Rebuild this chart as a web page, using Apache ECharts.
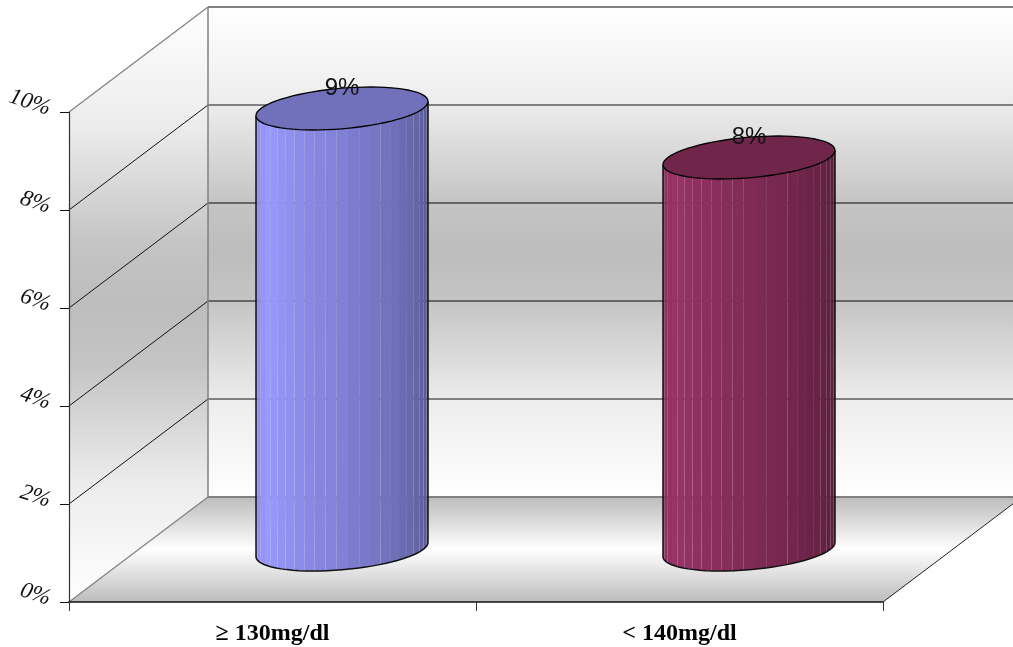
<!DOCTYPE html>
<html>
<head>
<meta charset="utf-8">
<style>html,body{margin:0;padding:0;background:#fff}#chart{width:1013px;height:647px}</style>
<script src="https://cdn.jsdelivr.net/npm/echarts@6/dist/echarts.min.js"></script>
</head>
<body>
<div id="chart"></div>
<script>
// Values of the two columns, in percent
const categories = ['\u2265 130mg/dl', '< 140mg/dl'];
const percentValues = [9, 8];
const valueTicks = [0, 2, 4, 6, 8, 10];
const columnColors = [[153, 153, 255], [153, 51, 102]];

// Oblique projection of the chart box
const DEPTH_X = 139;
const DEPTH_Y = 105;
const RADIUS_WIDE = 86;   // half of the drawn column width
const RADIUS_DX = 28.5;   // sideways shift of the ellipse's depth axis
const RADIUS_DY = 21.5;   // vertical half height of the ellipse

const wallStops = [
  { offset: 0, color: '#ffffff' },
  { offset: 0.2, color: '#ececec' },
  { offset: 0.4, color: '#c4c4c4' },
  { offset: 0.5, color: '#bdbdbd' },
  { offset: 0.6, color: '#c4c4c4' },
  { offset: 0.8, color: '#ececec' },
  { offset: 1, color: '#ffffff' }
];
const floorStops = [
  { offset: 0, color: '#bcbcbc' },
  { offset: 0.5, color: '#ffffff' },
  { offset: 1, color: '#bcbcbc' }
];
const vertical = (colorStops) => ({ type: 'linear', x: 0, y: 0, x2: 0, y2: 1, colorStops });

// Back wall, side wall, floor and the grid lines bent across both walls
function renderBox(params, api) {
  const cs = params.coordSys;
  const left = cs.x, right = cs.x + cs.width;
  const y0 = api.coord([0, 0])[1], yTop = api.coord([0, 10])[1];
  const children = [];
  const poly = (points, fill) => children.push({ type: 'polygon', shape: { points }, style: { fill: vertical(fill), stroke: null } });
  const seg = (x1, y1, x2, y2, stroke, lineWidth) => children.push({
    type: 'line', shape: { x1, y1, x2, y2 }, style: { stroke, lineWidth, fill: null }
  });
  const backX = left + DEPTH_X;

  poly([[backX, yTop - DEPTH_Y], [right + DEPTH_X, yTop - DEPTH_Y], [right + DEPTH_X, y0 - DEPTH_Y], [backX, y0 - DEPTH_Y]], wallStops);
  poly([[left, yTop], [backX, yTop - DEPTH_Y], [backX, y0 - DEPTH_Y], [left, y0]], wallStops);
  poly([[left, y0], [backX, y0 - DEPTH_Y], [right + DEPTH_X, y0 - DEPTH_Y], [right, y0]], floorStops);

  valueTicks.forEach((v) => {
    const y = api.coord([0, v])[1];
    const outer = v === 0 || v === 10;
    const backColor = (v === 4 || v === 6) ? '#666666' : '#808080';
    seg(backX, y - DEPTH_Y, right + DEPTH_X, y - DEPTH_Y, backColor, 2);
    seg(left, y, backX, y - DEPTH_Y, outer ? '#808080' : '#111111', outer ? 1.2 : 1);
  });
  seg(backX, yTop - DEPTH_Y, backX, y0 - DEPTH_Y, '#808080', 1.5);
  seg(right, y0, right + DEPTH_X, y0 - DEPTH_Y, '#222222', 1);
  return { type: 'group', children };
}

// Position on the column's rim; angle runs from the right extreme through the front
function rim(cx, cy, deg) {
  const a = deg * Math.PI / 180;
  const skew = Math.atan2(RADIUS_DX, Math.sqrt(RADIUS_WIDE * RADIUS_WIDE - RADIUS_DX * RADIUS_DX));
  return [cx + RADIUS_WIDE * Math.cos(a), cy + RADIUS_DY * Math.sin(a - skew)];
}

const shade = (rgb, f) => 'rgb(' + rgb.map((c) => Math.round(c * f)).join(',') + ')';

// Light falls from the left: brightest a little in from the left edge, darkest on the right
function facetShade(deg) {
  if (deg > 150) return 0.9 + (180 - deg) / 30 * 0.1;
  return 0.55 + 0.45 * Math.pow(deg / 150, 0.9);
}

function renderColumn(params, api) {
  const i = params.dataIndex;
  const value = api.value(1);
  const base = api.coord([api.value(0), 0]);
  const top = api.coord([api.value(0), value]);
  const cx = base[0] + DEPTH_X / 2;
  const baseY = base[1] - DEPTH_Y / 2;
  const topY = top[1] - DEPTH_Y / 2;
  const rgb = columnColors[i];
  const children = [];

  const edges = [0];
  for (let d = 3.5; d < 180; d += 7.5) edges.push(d);
  edges.push(180);

  for (let k = 0; k < edges.length - 1; k++) {
    const a = rim(cx, baseY, edges[k]), b = rim(cx, baseY, edges[k + 1]);
    const c = rim(cx, topY, edges[k + 1]), d = rim(cx, topY, edges[k]);
    children.push({
      type: 'polygon', shape: { points: [a, b, c, d] },
      style: { fill: shade(rgb, facetShade((edges[k] + edges[k + 1]) / 2)), stroke: null }
    });
  }

  const outline = [rim(cx, topY, 180)];
  for (let d = 180; d >= 0; d -= 5) outline.push(rim(cx, baseY, d));
  outline.push(rim(cx, topY, 0));
  children.push({ type: 'polyline', shape: { points: outline }, style: { stroke: '#111111', lineWidth: 1.5, fill: null } });

  const lid = [];
  for (let d = 0; d < 360; d += 5) lid.push(rim(cx, topY, d));
  children.push({ type: 'polygon', shape: { points: lid }, style: { fill: shade(rgb, 0.735), stroke: '#000000', lineWidth: 1.3 } });

  children.push({
    type: 'text',
    style: {
      text: value + '%', x: cx, y: topY - 20, align: 'center', verticalAlign: 'middle',
      fontFamily: 'Liberation Sans', fontSize: 24, fill: '#111111'
    }
  });
  return { type: 'group', children };
}

const chart = echarts.init(document.getElementById('chart'), null, { renderer: 'canvas' });
chart.setOption({
  animation: false,
  backgroundColor: '#ffffff',
  grid: { left: 69, top: 112, width: 814, height: 490, outerBoundsMode: 'none' },
  xAxis: {
    type: 'category',
    data: categories,
    axisLine: { lineStyle: { color: '#111111', width: 1.5 } },
    axisTick: { show: true, alignWithLabel: false, length: 9, lineStyle: { color: '#333333' } },
    axisLabel: {
      margin: 20, color: '#000000', fontFamily: 'Liberation Serif', fontWeight: 'bold', fontSize: 24
    }
  },
  yAxis: {
    type: 'value', min: 0, max: 10, interval: 2,
    axisLine: { show: true, lineStyle: { color: '#333333', width: 1.2 } },
    axisTick: { show: true, length: 9, lineStyle: { color: '#111111' } },
    splitLine: { show: false },
    axisLabel: {
      formatter: '{value}%', rotate: -18, margin: 20, color: '#111111',
      verticalAlign: 'bottom', lineHeight: 6,
      fontFamily: 'Liberation Serif', fontStyle: 'italic', fontSize: 23
    }
  },
  series: [
    { type: 'custom', z: -1, silent: true, clip: false, renderItem: renderBox, data: [[0, 0]], encode: { x: 0, y: 1 } },
    { type: 'custom', z: 3, silent: true, clip: false, renderItem: renderColumn,
      data: percentValues.map((v, i) => [i, v]), encode: { x: 0, y: 1 } }
  ]
});
</script>
</body>
</html>
